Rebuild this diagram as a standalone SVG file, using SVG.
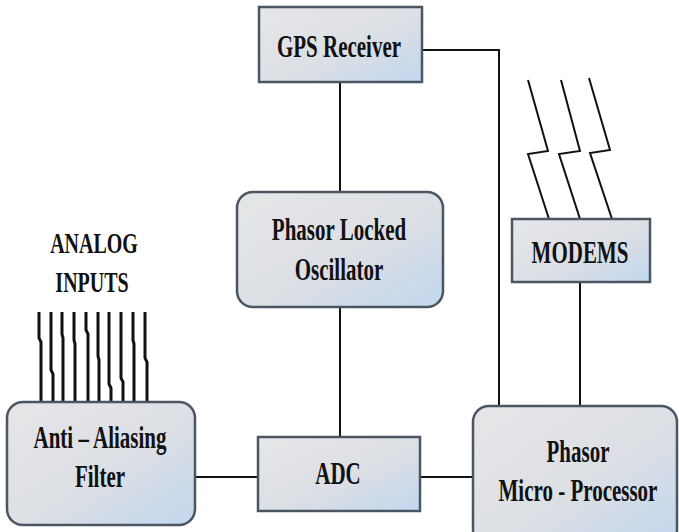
<svg xmlns="http://www.w3.org/2000/svg" width="679" height="532" viewBox="0 0 679 532">
  <defs>
    <linearGradient id="boxFill" x1="0" y1="0" x2="1" y2="1">
      <stop offset="0" stop-color="#e6e6e8"/>
      <stop offset="0.55" stop-color="#dcdfe4"/>
      <stop offset="1" stop-color="#c2d7ee"/>
    </linearGradient>
    <style>
      .box { fill: url(#boxFill); stroke: #4b5663; stroke-width: 2.5; }
      .wire { fill: none; stroke: #111; stroke-width: 2; }
      .input { fill: none; stroke: #111; stroke-width: 3; }
      .bolt { fill: none; stroke: #111; stroke-width: 2; stroke-linejoin: miter; }
      .lbl { font-family: "Liberation Serif", "Times New Roman", serif; font-weight: bold; font-size: 21px; fill: #111; text-anchor: middle; }
      .lbl-sm { font-size: 20px; }
    </style>
  </defs>

  <rect width="679" height="532" fill="#ffffff"/>

  <!-- connectors -->
  <g id="connectors">
    <line class="wire" x1="340" y1="82" x2="340" y2="192"/>
    <line class="wire" x1="340" y1="307" x2="340" y2="437"/>
    <line class="wire" x1="195" y1="477" x2="258" y2="477"/>
    <line class="wire" x1="420" y1="477" x2="473" y2="477"/>
    <polyline class="wire" points="422,50 499,50 499,406"/>
    <line class="wire" x1="580" y1="282" x2="580" y2="406"/>
  </g>

  <!-- analog input lines -->
  <g id="analog-inputs">
    <polyline class="input" points="39,312 39,338 41,342 41,402"/>
    <polyline class="input" points="51,312 51,370 53,374 53,402"/>
    <polyline class="input" points="62,312 62,334 63,338 63,402"/>
    <polyline class="input" points="74,312 74,340 75,344 75,402"/>
    <polyline class="input" points="86,312 86,330 88,334 88,402"/>
    <polyline class="input" points="98,312 98,356 99,360 99,402"/>
    <polyline class="input" points="109,312 109,384 111,388 111,402"/>
    <polyline class="input" points="121,312 121,378 123,382 123,402"/>
    <polyline class="input" points="133,312 133,340 134,344 134,402"/>
    <polyline class="input" points="145,312 145,358 147,362 147,402"/>
    <text class="lbl lbl-sm" transform="translate(94,253) scale(1,1.45)">ANALOG</text>
    <text class="lbl lbl-sm" transform="translate(92,292) scale(1,1.45)">INPUTS</text>
  </g>

  <!-- radio links above the modems -->
  <g id="radio-links">
    <polyline class="bolt" points="528,80 548,151 528,154 549,219"/>
    <polyline class="bolt" points="561,80 580,151 559,154 580,219"/>
    <polyline class="bolt" points="589,78 610,150 590,153 612,219"/>
  </g>

  <g id="gps-receiver">
    <rect class="box" x="259" y="7" width="163" height="75"/>
    <text class="lbl" transform="translate(339,57) scale(1,1.5)">GPS Receiver</text>
  </g>

  <g id="phasor-locked-oscillator">
    <rect class="box" x="237" y="192" width="206" height="115" rx="16" ry="16"/>
    <text class="lbl" transform="translate(339,240) scale(1,1.5)">Phasor Locked</text>
    <text class="lbl" transform="translate(339,280) scale(1,1.5)">Oscillator</text>
  </g>

  <g id="modems">
    <rect class="box" x="512" y="219" width="138" height="63"/>
    <text class="lbl" transform="translate(580,263) scale(1,1.5)">MODEMS</text>
  </g>

  <g id="anti-aliasing-filter">
    <rect class="box" x="7" y="402" width="188" height="123" rx="16" ry="16"/>
    <text class="lbl" transform="translate(100,448) scale(1,1.5)">Anti – Aliasing</text>
    <text class="lbl" transform="translate(100,487) scale(1,1.5)">Filter</text>
  </g>

  <g id="adc">
    <rect class="box" x="258" y="437" width="162" height="74"/>
    <text class="lbl" transform="translate(338,484) scale(1,1.5)">ADC</text>
  </g>

  <g id="phasor-micro-processor">
    <rect class="box" x="473" y="406" width="204" height="140" rx="16" ry="16"/>
    <text class="lbl" transform="translate(578,462) scale(1,1.5)">Phasor</text>
    <text class="lbl" transform="translate(578,501) scale(1,1.5)">Micro - Processor</text>
  </g>
</svg>
